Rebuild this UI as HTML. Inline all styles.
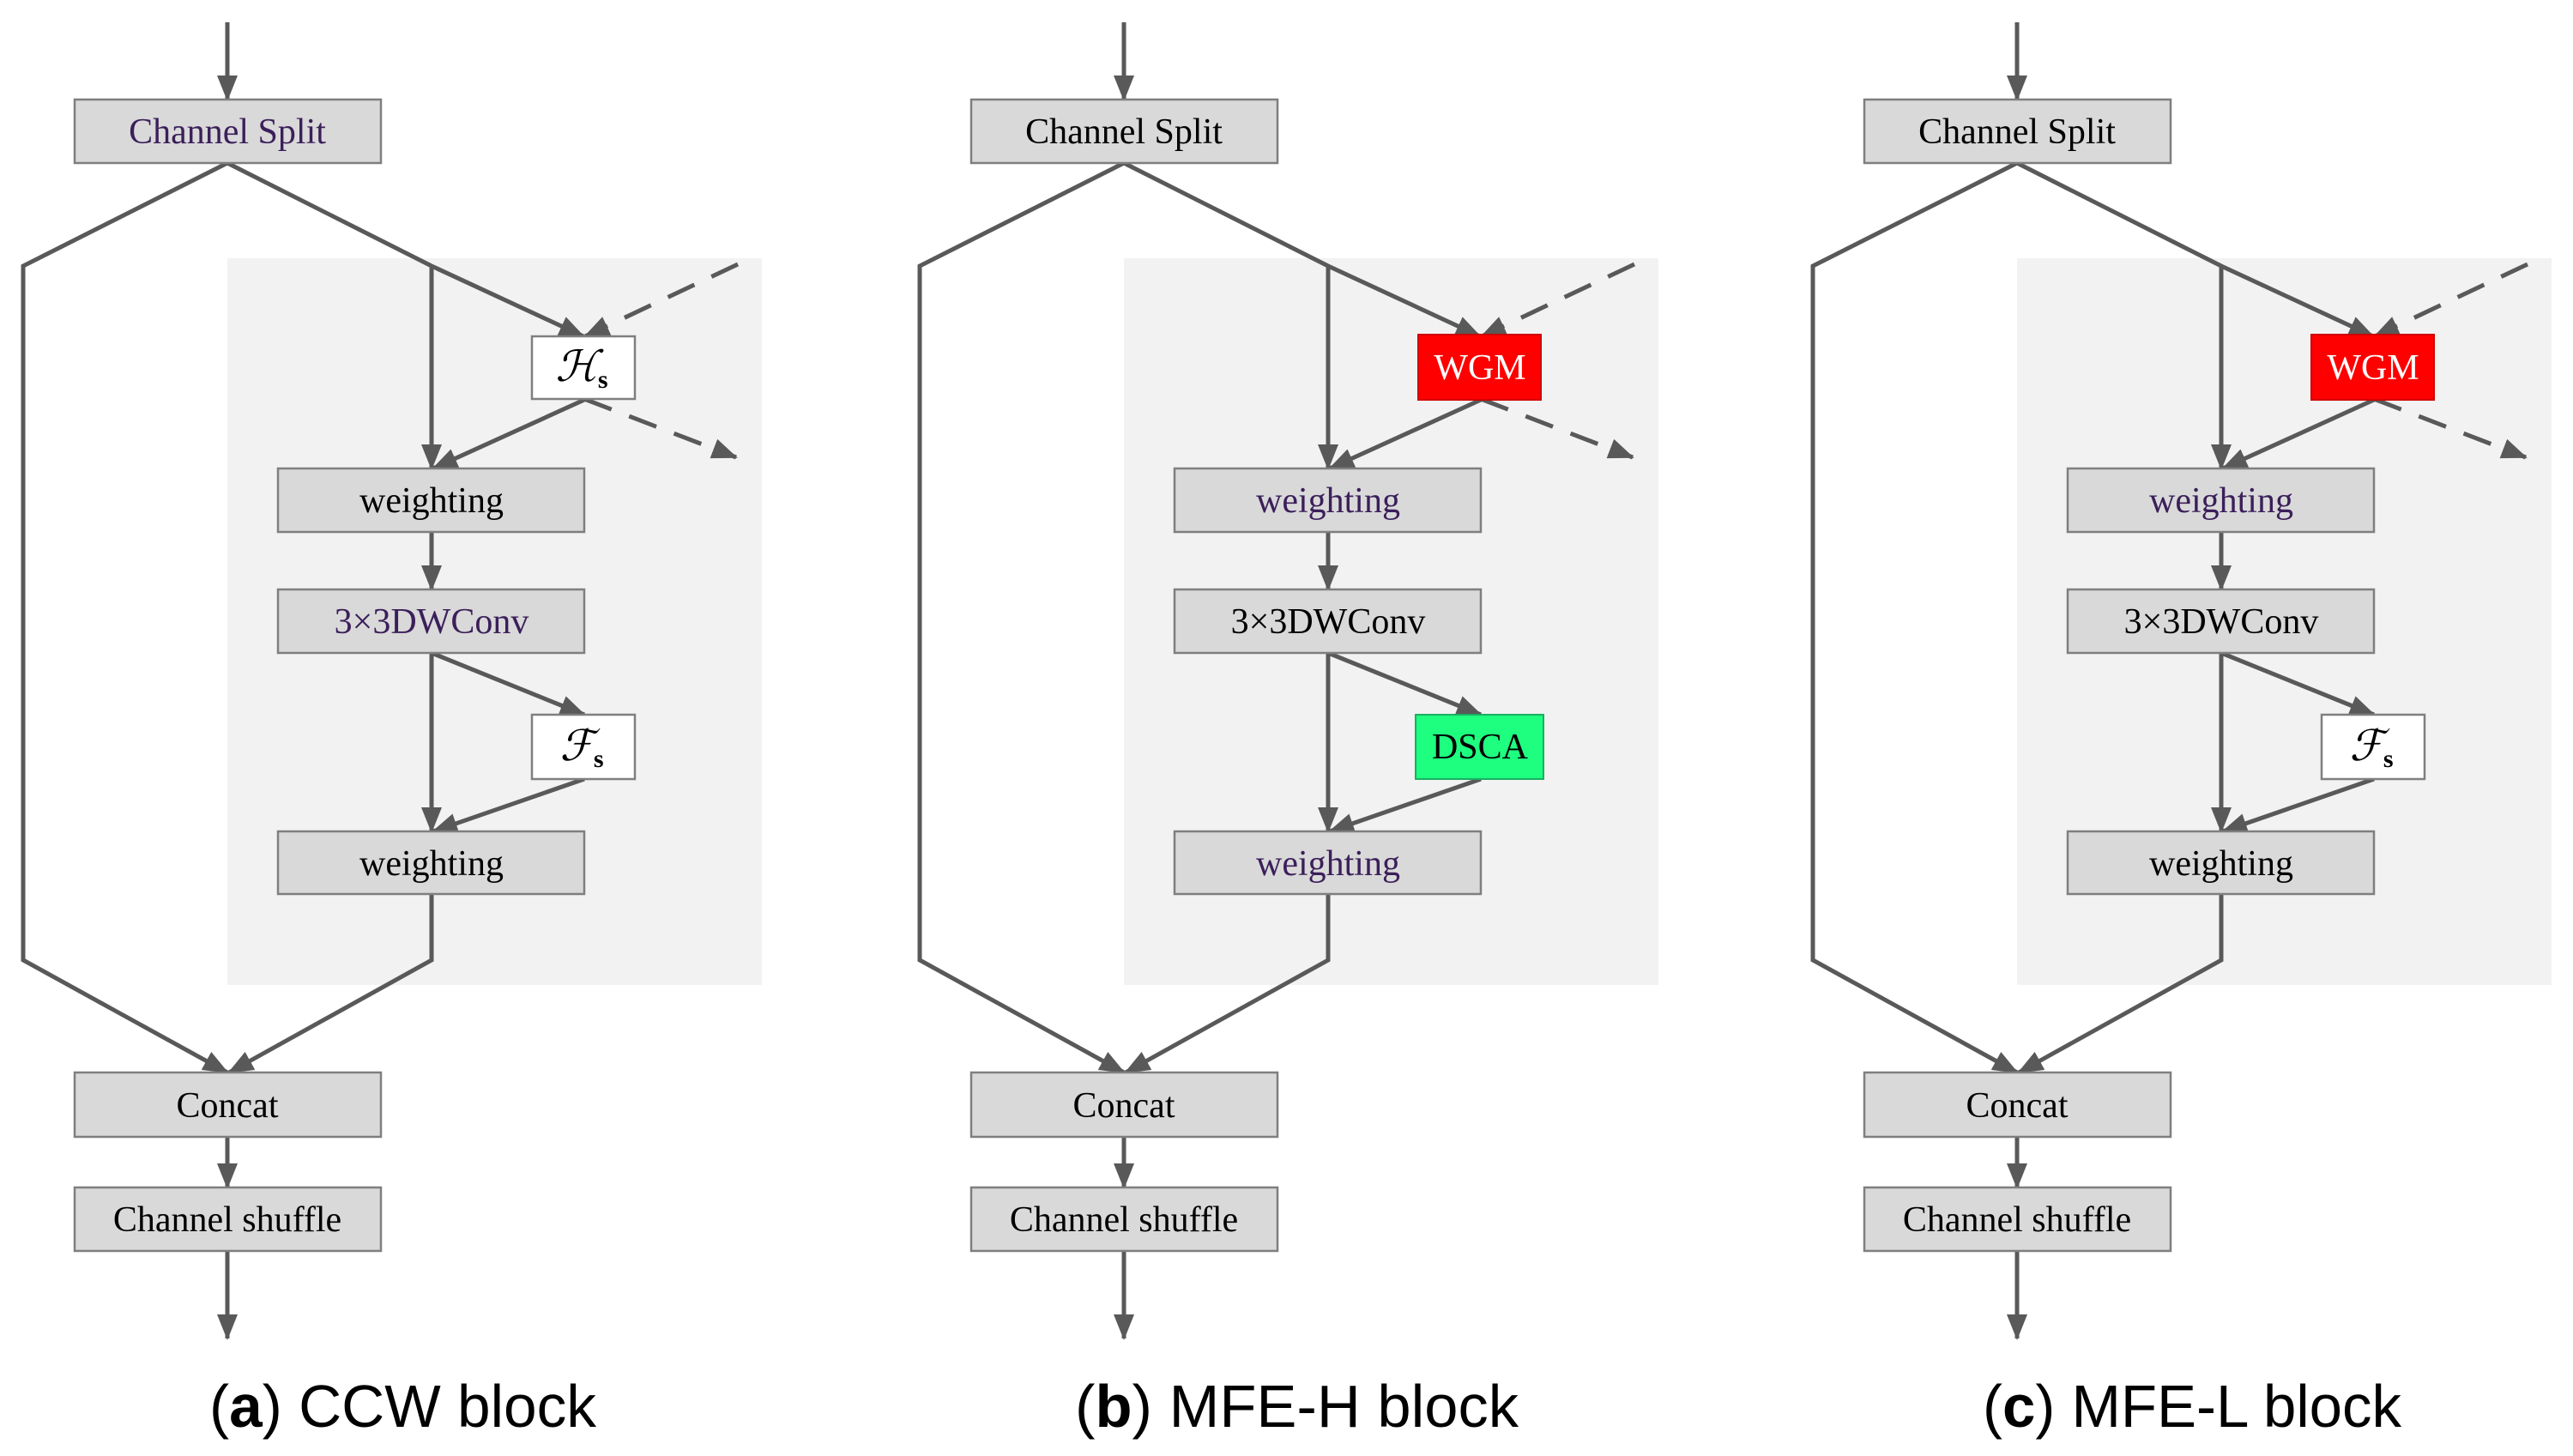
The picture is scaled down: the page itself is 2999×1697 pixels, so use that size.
<!DOCTYPE html>
<html><head><meta charset="utf-8"><style>
html,body{margin:0;padding:0;background:#fff;}
svg{display:block;}
.bx{fill:#d9d9d9;stroke:#7f7f7f;stroke-width:2.5;}
.wb{fill:#ffffff;stroke:#7f7f7f;stroke-width:2.5;}
.ln{fill:none;stroke:#595959;stroke-width:5;}
.da{fill:none;stroke:#595959;stroke-width:5;stroke-dasharray:34 22;}
.t{font-family:"Liberation Serif",serif;font-size:42px;text-anchor:middle;fill:#000;}
.s{font-family:"Liberation Serif","DejaVu Serif",serif;font-size:50px;font-style:italic;text-anchor:middle;fill:#000;}
.p{fill:#3b1f5a;}
.cap{font-family:"Liberation Sans",sans-serif;font-size:70px;fill:#000;}
</style></head><body>
<svg width="2999" height="1697" viewBox="0 0 2999 1697" xmlns="http://www.w3.org/2000/svg">
<defs>
<marker id="ar" markerUnits="userSpaceOnUse" markerWidth="30" markerHeight="24" refX="28" refY="12" orient="auto">
<path d="M0,0 L30,12 L0,24 z" fill="#595959"/>
</marker>
<g id="common">
<rect x="265" y="301" width="623" height="847" fill="#f2f2f2"/>
<line class="ln" x1="265" y1="26" x2="265" y2="116" marker-end="url(#ar)"/>
<polyline class="ln" points="265,190 27,310 27,1119 265,1250" marker-end="url(#ar)"/>
<polyline class="ln" points="265,190 503,310 680,392" marker-end="url(#ar)"/>
<line class="ln" x1="503" y1="310" x2="503" y2="546" marker-end="url(#ar)"/>
<line class="da" x1="860" y1="308" x2="682" y2="392" marker-end="url(#ar)"/>
<line class="da" x1="681" y1="465" x2="858" y2="533" marker-end="url(#ar)"/>
<line class="ln" x1="681" y1="466" x2="505" y2="546" marker-end="url(#ar)"/>
<line class="ln" x1="503" y1="620" x2="503" y2="687" marker-end="url(#ar)"/>
<line class="ln" x1="503" y1="761" x2="681" y2="833" marker-end="url(#ar)"/>
<line class="ln" x1="503" y1="761" x2="503" y2="969" marker-end="url(#ar)"/>
<line class="ln" x1="681" y1="908" x2="505" y2="969" marker-end="url(#ar)"/>
<polyline class="ln" points="503,1042 503,1119 267,1250" marker-end="url(#ar)"/>
<line class="ln" x1="265" y1="1325" x2="265" y2="1384" marker-end="url(#ar)"/>
<line class="ln" x1="265" y1="1458" x2="265" y2="1560" marker-end="url(#ar)"/>
<rect class="bx" x="87" y="116" width="357" height="74"/>
<rect class="bx" x="324" y="546" width="357" height="74"/>
<rect class="bx" x="324" y="687" width="357" height="74"/>
<rect class="bx" x="324" y="969" width="357" height="73"/>
<rect class="bx" x="87" y="1250" width="357" height="75"/>
<rect class="bx" x="87" y="1384" width="357" height="74"/>
</g>
</defs>

<g>
<use href="#common"/>
<rect class="wb" x="620" y="392" width="120" height="73"/>
<rect class="wb" x="620" y="833" width="120" height="75"/>
<text class="t p" x="265" y="167">Channel Split</text>
<text class="t" x="503" y="597">weighting</text>
<text class="t p" x="503" y="738">3×3DWConv</text>
<text class="t" x="503" y="1020">weighting</text>
<text class="t" x="265" y="1302">Concat</text>
<text class="t" x="265" y="1435">Channel shuffle</text>
<text class="s" x="678" y="444">ℋ<tspan font-size="30" font-style="normal" font-weight="bold" dy="8">s</tspan></text>
<text class="s" x="678" y="886">ℱ<tspan font-size="30" font-style="normal" font-weight="bold" dy="8">s</tspan></text>
<text class="cap" x="244" y="1663" textLength="451" lengthAdjust="spacingAndGlyphs">(<tspan font-weight="bold">a</tspan>) CCW block</text>
</g>

<g transform="translate(1045,0)">
<use href="#common"/>
<rect x="608" y="390" width="143" height="76" fill="#ff0000" stroke="#d00000" stroke-width="2"/>
<rect x="605" y="833" width="149" height="75" fill="#1eff80" stroke="#18b060" stroke-width="2"/>
<text class="t" x="680" y="442" style="fill:#fff">WGM</text>
<text class="t" x="680" y="884">DSCA</text>
<text class="t" x="265" y="167">Channel Split</text>
<text class="t p" x="503" y="597">weighting</text>
<text class="t" x="503" y="738">3×3DWConv</text>
<text class="t p" x="503" y="1020">weighting</text>
<text class="t" x="265" y="1302">Concat</text>
<text class="t" x="265" y="1435">Channel shuffle</text>
<text class="cap" x="208" y="1663" textLength="517" lengthAdjust="spacingAndGlyphs">(<tspan font-weight="bold">b</tspan>) MFE-H block</text>
</g>

<g transform="translate(2086,0)">
<use href="#common"/>
<rect x="608" y="390" width="143" height="76" fill="#ff0000" stroke="#d00000" stroke-width="2"/>
<rect class="wb" x="620" y="833" width="120" height="75"/>
<text class="t" x="680" y="442" style="fill:#fff">WGM</text>
<text class="s" x="678" y="886">ℱ<tspan font-size="30" font-style="normal" font-weight="bold" dy="8">s</tspan></text>
<text class="t" x="265" y="167">Channel Split</text>
<text class="t p" x="503" y="597">weighting</text>
<text class="t" x="503" y="738">3×3DWConv</text>
<text class="t" x="503" y="1020">weighting</text>
<text class="t" x="265" y="1302">Concat</text>
<text class="t" x="265" y="1435">Channel shuffle</text>
<text class="cap" x="225" y="1663" textLength="488" lengthAdjust="spacingAndGlyphs">(<tspan font-weight="bold">c</tspan>) MFE-L block</text>
</g>
</svg>
</body></html>
